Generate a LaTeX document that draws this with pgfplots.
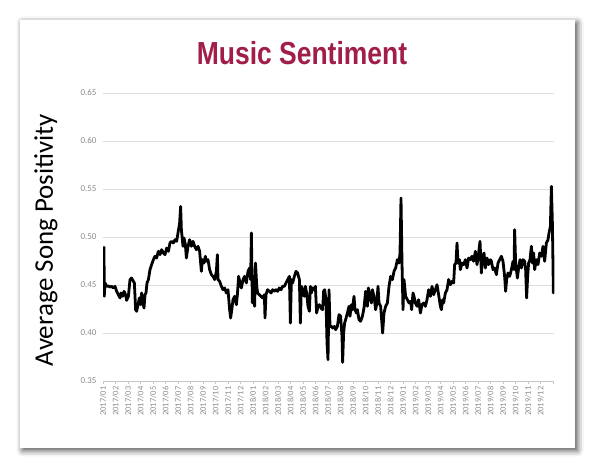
\documentclass[border=0pt]{standalone}
\usepackage{pgfplots}
\pgfplotsset{compat=1.18}
\usepackage{fontspec}
\setmainfont{Carlito}
\newfontfamily\titlefont{Liberation Sans}[FakeStretch=0.83]
\usetikzlibrary{shadows.blur}
\definecolor{titlered}{RGB}{160,30,72}
\definecolor{tickgray}{RGB}{140,140,140}
\definecolor{gridgray}{RGB}{222,222,222}
\definecolor{axisgray}{RGB}{200,200,200}
\pgfplotstableread{
m v
0.08 0.4903
0.10 0.4382
0.16 0.4521
0.29 0.4486
0.43 0.4490
0.56 0.4479
0.69 0.4486
0.83 0.4469
0.96 0.4486
1.09 0.4434
1.23 0.4399
1.36 0.4365
1.44 0.4417
1.57 0.4382
1.68 0.4434
1.81 0.4399
1.89 0.4340
2.03 0.4382
2.16 0.4556
2.29 0.4573
2.43 0.4538
2.51 0.4521
2.61 0.4243
2.69 0.4226
2.83 0.4313
2.91 0.4365
3.01 0.4295
3.09 0.4417
3.17 0.4330
3.28 0.4260
3.36 0.4399
3.44 0.4417
3.52 0.4521
3.63 0.4556
3.76 0.4660
3.89 0.4712
4.03 0.4764
4.16 0.4799
4.29 0.4781
4.43 0.4851
4.56 0.4816
4.69 0.4868
4.83 0.4833
4.96 0.4816
5.09 0.4885
5.23 0.4851
5.36 0.4938
5.49 0.4955
5.63 0.4938
5.76 0.4972
5.89 0.4955
6.00 0.5042
6.13 0.5146
6.21 0.5319
6.27 0.5076
6.40 0.4903
6.48 0.4990
6.59 0.4920
6.67 0.4781
6.80 0.4903
6.93 0.4972
7.07 0.4903
7.20 0.4955
7.33 0.4903
7.47 0.4868
7.60 0.4903
7.73 0.4851
7.87 0.4642
7.95 0.4764
8.08 0.4729
8.19 0.4799
8.27 0.4747
8.40 0.4764
8.53 0.4660
8.67 0.4608
8.80 0.4590
8.93 0.4556
9.07 0.4642
9.15 0.4816
9.20 0.4556
9.33 0.4538
9.47 0.4486
9.60 0.4451
9.73 0.4469
9.87 0.4417
10.00 0.4451
10.13 0.4243
10.21 0.4156
10.32 0.4260
10.40 0.4347
10.53 0.4382
10.67 0.4295
10.75 0.4399
10.85 0.4590
10.96 0.4521
11.07 0.4469
11.20 0.4556
11.33 0.4590
11.47 0.4521
11.60 0.4642
11.73 0.4677
11.81 0.4556
11.87 0.5042
11.95 0.4313
12.08 0.4590
12.13 0.4278
12.20 0.4729
12.30 0.4486
12.37 0.4417
12.51 0.4399
12.64 0.4382
12.77 0.4365
12.91 0.4399
12.96 0.4156
13.04 0.4399
13.17 0.4451
13.31 0.4434
13.44 0.4417
13.57 0.4451
13.71 0.4434
13.84 0.4451
13.97 0.4434
14.11 0.4469
14.24 0.4451
14.37 0.4486
14.51 0.4486
14.64 0.4521
14.77 0.4556
14.91 0.4590
14.99 0.4104
15.07 0.4556
15.17 0.4521
15.31 0.4590
15.44 0.4642
15.57 0.4625
15.71 0.4556
15.79 0.4104
15.87 0.4486
15.97 0.4451
16.11 0.4382
16.19 0.4486
16.29 0.4417
16.40 0.4278
16.51 0.4226
16.59 0.4486
16.67 0.4417
16.77 0.4469
16.91 0.4451
16.99 0.4486
17.09 0.4208
17.20 0.4278
17.31 0.4295
17.44 0.4260
17.57 0.4243
17.65 0.4434
17.73 0.4451
17.84 0.4347
17.92 0.3896
18.00 0.3722
18.08 0.4451
18.16 0.4069
18.27 0.4069
18.37 0.4052
18.51 0.4069
18.61 0.4035
18.75 0.4069
18.88 0.4191
19.01 0.4174
19.12 0.3965
19.17 0.3694
19.25 0.4000
19.33 0.4104
19.41 0.4139
19.55 0.4208
19.68 0.4278
19.76 0.4174
19.87 0.4295
19.95 0.4243
20.08 0.4382
20.16 0.4243
20.27 0.4208
20.35 0.4243
20.48 0.4139
20.61 0.4122
20.75 0.4174
20.88 0.4260
21.01 0.4434
21.15 0.4278
21.23 0.4469
21.36 0.4382
21.47 0.4313
21.55 0.4451
21.68 0.4382
21.81 0.4243
21.89 0.4295
22.00 0.4486
22.08 0.4313
22.21 0.4278
22.29 0.4139
22.37 0.4000
22.48 0.4208
22.61 0.4278
22.75 0.4313
22.88 0.4486
23.01 0.4590
23.15 0.4556
23.28 0.4642
23.41 0.4677
23.55 0.4764
23.68 0.4729
23.76 0.4833
23.84 0.5406
23.92 0.4729
24.00 0.4243
24.08 0.4556
24.21 0.4382
24.35 0.4347
24.48 0.4313
24.61 0.4330
24.69 0.4243
24.80 0.4417
24.88 0.4382
24.99 0.4313
25.12 0.4278
25.25 0.4347
25.39 0.4208
25.52 0.4295
25.65 0.4313
25.79 0.4278
25.92 0.4347
26.05 0.4451
26.19 0.4382
26.32 0.4486
26.45 0.4399
26.59 0.4451
26.72 0.4503
26.85 0.4399
26.99 0.4278
27.07 0.4243
27.17 0.4347
27.25 0.4313
27.39 0.4417
27.52 0.4451
27.65 0.4556
27.79 0.4503
27.92 0.4538
28.05 0.4521
28.13 0.4712
28.24 0.4729
28.32 0.4938
28.40 0.4729
28.51 0.4764
28.59 0.4660
28.72 0.4729
28.85 0.4712
28.99 0.4764
29.12 0.4677
29.25 0.4781
29.39 0.4764
29.52 0.4799
29.65 0.4747
29.79 0.4851
29.92 0.4712
30.05 0.4833
30.16 0.4955
30.27 0.4625
30.37 0.4799
30.48 0.4833
30.59 0.4677
30.72 0.4781
30.85 0.4712
30.99 0.4764
31.07 0.4747
31.20 0.4660
31.33 0.4677
31.47 0.4608
31.60 0.4729
31.73 0.4764
31.87 0.4799
32.00 0.4747
32.13 0.4590
32.21 0.4434
32.29 0.4556
32.40 0.4625
32.53 0.4590
32.67 0.4660
32.80 0.4747
32.88 0.4660
32.93 0.5076
33.01 0.4729
33.15 0.4573
33.25 0.4677
33.36 0.4764
33.47 0.4677
33.60 0.4764
33.73 0.4747
33.81 0.4660
33.89 0.4365
33.97 0.4590
34.05 0.4729
34.16 0.4764
34.27 0.4903
34.35 0.4729
34.45 0.4833
34.53 0.4660
34.67 0.4764
34.80 0.4712
34.93 0.4833
35.07 0.4799
35.20 0.4903
35.33 0.4747
35.47 0.4938
35.60 0.4972
35.68 0.5042
35.79 0.5111
35.87 0.5528
35.95 0.5146
36.03 0.4417
36.10 0.4556
}\sentiment
\begin{document}
\begin{tikzpicture}[x=1bp,y=1bp]
\useasboundingbox (0,0) rectangle (600,470);
\fill[white, blur shadow={shadow xshift=2.5bp, shadow yshift=-2.5bp, shadow blur radius=6bp, shadow opacity=70}] (20,22) rectangle (575,450);
\begin{axis}[
  at={(103bp,89bp)}, anchor=south west,
  scale only axis, width=451.25bp, height=288bp,
  xmin=0, xmax=36.1, ymin=0.35, ymax=0.65,
  axis x line*=bottom, axis y line*=left,
  x axis line style={draw=axisgray, line width=0.6bp, -},
  y axis line style={draw=none},
  ytick={0.35,0.40,0.45,0.50,0.55,0.60,0.65},
  xtick={0,1,...,36},
  xticklabels={2017/01,2017/02,2017/03,2017/04,2017/05,2017/06,2017/07,2017/08,2017/09,2017/10,2017/11,2017/12,2018/01,2018/02,2018/03,2018/04,2018/05,2018/06,2018/07,2018/08,2018/09,2018/10,2018/11,2018/12,2019/01,2019/02,2019/03,2019/04,2019/05,2019/06,2019/07,2019/08,2019/09,2019/10,2019/11,2019/12,{}},
  tick align=outside,
  major tick length=3bp,
  xtick style={draw=axisgray, line width=0.6bp},
  ytick style={draw=none},
  ymajorgrids, grid style={draw=gridgray, line width=0.8bp},
  /pgf/number format/assume math mode=true,
  yticklabel style={font=\fontsize{9}{10}\selectfont, text=tickgray, /pgf/number format/.cd, fixed, fixed zerofill, precision=2},
  xticklabel style={font=\fontsize{8.5}{10}\selectfont, text=tickgray, rotate=90, anchor=east, inner sep=2.5bp},
]
\addplot[black, line width=2.8bp, line join=round] table[x=m, y=v] {\sentiment};
\end{axis}
\node[font=\titlefont\bfseries\fontsize{32}{36}\selectfont, text=titlered] at (302,417) {Music Sentiment};
\node[rotate=90, font=\fontsize{27}{30}\selectfont] at (46,230) {Average Song Positivity};
\end{tikzpicture}
\end{document}
